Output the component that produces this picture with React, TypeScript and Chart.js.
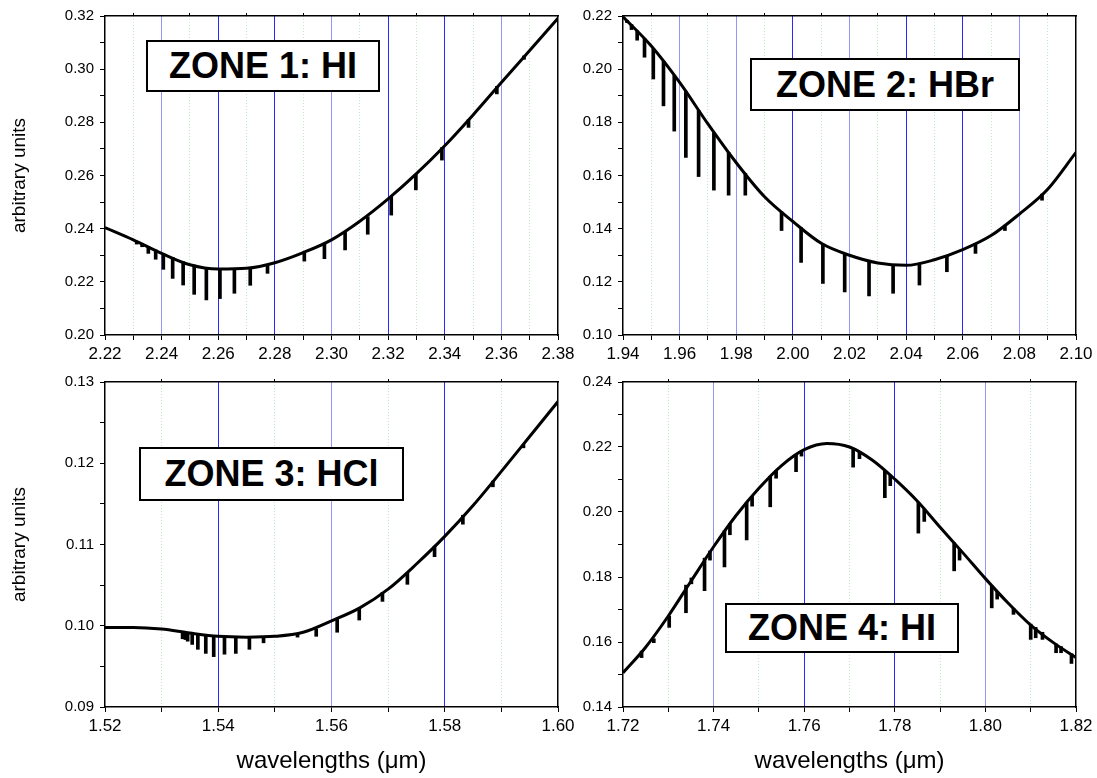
import React, { useEffect, useRef } from 'react';
import { Chart, registerables } from 'chart.js';

Chart.register(...registerables);

const FONT = "'Liberation Sans', Arial, Helvetica, sans-serif";
Chart.defaults.font.family = FONT;
Chart.defaults.color = '#000';

// ---------------- ZONE 1: HI ----------------
const Z1_BASE_X = [2.22, 2.23, 2.24, 2.25, 2.26, 2.27, 2.28, 2.29, 2.30, 2.31, 2.32, 2.33, 2.34, 2.35, 2.36, 2.37, 2.38];
const Z1_BASE_Y = [0.2404, 0.2358, 0.2307, 0.2264, 0.2248, 0.2251, 0.2272, 0.2310, 0.2358, 0.2428, 0.2512, 0.2607, 0.2712, 0.2828, 0.2950, 0.3070, 0.3192];
const Z1_LINE_X = [2.2312, 2.2331, 2.2353, 2.2379, 2.2406, 2.2439, 2.2476, 2.2515, 2.2558, 2.2606, 2.2657, 2.2713, 2.2774, 2.2904, 2.2975, 2.3048, 2.3128, 2.3211, 2.3298, 2.3390, 2.3484, 2.3584, 2.3680];
const Z1_LINE_TOP = [0.2351, 0.2345, 0.2332, 0.2320, 0.2305, 0.2292, 0.2276, 0.2263, 0.2254, 0.2249, 0.2249, 0.2253, 0.2263, 0.2313, 0.2345, 0.2389, 0.2445, 0.2521, 0.2604, 0.2705, 0.2810, 0.2935, 0.3050];
const Z1_LINE_BOTTOM = [0.2342, 0.2332, 0.2307, 0.2285, 0.2247, 0.2213, 0.2188, 0.2153, 0.2132, 0.2137, 0.2157, 0.2187, 0.2232, 0.2278, 0.2287, 0.2320, 0.2379, 0.2451, 0.2546, 0.2658, 0.2781, 0.2907, 0.3037];
const Z1_X_LABELS = ['2.22', '2.24', '2.26', '2.28', '2.30', '2.32', '2.34', '2.36', '2.38'];
const Z1_X_MINOR = [2.23, 2.25, 2.27, 2.29, 2.31, 2.33, 2.35, 2.37];
const Z1_Y_LABELS = ['0.20', '0.22', '0.24', '0.26', '0.28', '0.30', '0.32'];
const Z1_Y_MINOR = [0.21, 0.23, 0.25, 0.27, 0.29, 0.31];

// ---------------- ZONE 2: HBr ----------------
const Z2_BASE_X = [1.94, 1.95, 1.96, 1.97, 1.98, 1.99, 2.00, 2.01, 2.02, 2.03, 2.04, 2.05, 2.06, 2.07, 2.08, 2.09, 2.10];
const Z2_BASE_Y = [0.2197, 0.2087, 0.1950, 0.1794, 0.1648, 0.1520, 0.1427, 0.1345, 0.1300, 0.1271, 0.1262, 0.1283, 0.1321, 0.1374, 0.1455, 0.1548, 0.1687];
const Z2_LINE_X = [1.9414, 1.9430, 1.9450, 1.9476, 1.9507, 1.9543, 1.9581, 1.9622, 1.9667, 1.9721, 1.9773, 1.9832, 1.9960, 2.0029, 2.0106, 2.0183, 2.0269, 2.0354, 2.0447, 2.0544, 2.0645, 2.0749, 2.0880];
const Z2_LINE_TOP = [0.2184, 0.2168, 0.2145, 0.2115, 0.2077, 0.2030, 0.1976, 0.1917, 0.1845, 0.1761, 0.1687, 0.1608, 0.1463, 0.1404, 0.1342, 0.1305, 0.1277, 0.1263, 0.1268, 0.1297, 0.1343, 0.1413, 0.1530];
const Z2_LINE_BOTTOM = [0.2175, 0.2149, 0.2109, 0.2045, 0.1963, 0.1862, 0.1767, 0.1668, 0.1596, 0.1545, 0.1526, 0.1526, 0.1393, 0.1273, 0.1194, 0.1162, 0.1147, 0.1157, 0.1188, 0.1238, 0.1307, 0.1393, 0.1507];
const Z2_X_LABELS = ['1.94', '1.96', '1.98', '2.00', '2.02', '2.04', '2.06', '2.08', '2.10'];
const Z2_X_MINOR = [1.95, 1.97, 1.99, 2.01, 2.03, 2.05, 2.07, 2.09];
const Z2_Y_LABELS = ['0.10', '0.12', '0.14', '0.16', '0.18', '0.20', '0.22'];
const Z2_Y_MINOR = [0.11, 0.13, 0.15, 0.17, 0.19, 0.21];

// ---------------- ZONE 3: HCl ----------------
const Z3_BASE_X = [1.52, 1.525, 1.53, 1.535, 1.54, 1.545, 1.55, 1.555, 1.56, 1.565, 1.57, 1.575, 1.58, 1.585, 1.59, 1.595, 1.60];
const Z3_BASE_Y = [0.0998, 0.0998, 0.0996, 0.0991, 0.0987, 0.0986, 0.0987, 0.0992, 0.1006, 0.1022, 0.1045, 0.1076, 0.1110, 0.1148, 0.1190, 0.1233, 0.1276];
const Z3_LINE_X = [1.5337, 1.5342, 1.5346, 1.5354, 1.5364, 1.5378, 1.5392, 1.5411, 1.5431, 1.5455, 1.5480, 1.5540, 1.5573, 1.5610, 1.5649, 1.5690, 1.5734, 1.5782, 1.5832, 1.5885, 1.5939];
const Z3_LINE_TOP = [0.0992, 0.0992, 0.0991, 0.0991, 0.0990, 0.0989, 0.0988, 0.0987, 0.0986, 0.0986, 0.0986, 0.0990, 0.0996, 0.1009, 0.1021, 0.1041, 0.1065, 0.1098, 0.1136, 0.1178, 0.1223];
const Z3_LINE_BOTTOM = [0.0984, 0.0983, 0.0981, 0.0977, 0.0971, 0.0966, 0.0962, 0.0965, 0.0966, 0.0971, 0.0979, 0.0986, 0.0987, 0.0992, 0.1007, 0.1030, 0.1051, 0.1085, 0.1125, 0.1171, 0.1219];
const Z3_X_LABELS = ['1.52', '1.54', '1.56', '1.58', '1.60'];
const Z3_X_MINOR = [1.53, 1.55, 1.57, 1.59];
const Z3_Y_LABELS = ['0.09', '0.10', '0.11', '0.12', '0.13'];
const Z3_Y_MINOR = [0.095, 0.105, 0.115, 0.125];

// ---------------- ZONE 4: HI ----------------
const Z4_BASE_X = [1.72, 1.725, 1.73, 1.735, 1.74, 1.745, 1.75, 1.755, 1.76, 1.765, 1.77, 1.775, 1.78, 1.785, 1.79, 1.795, 1.80, 1.805, 1.81, 1.815, 1.82];
const Z4_BASE_Y = [0.1505, 0.1584, 0.1680, 0.1787, 0.1893, 0.1990, 0.2073, 0.2143, 0.2192, 0.2211, 0.2200, 0.2160, 0.2101, 0.2033, 0.1953, 0.1875, 0.1795, 0.1720, 0.1652, 0.1598, 0.1552];
const Z4_LINE_X = [1.7241, 1.7268, 1.7302, 1.7339, 1.7351, 1.7380, 1.7392, 1.7424, 1.7436, 1.7473, 1.7485, 1.7525, 1.7538, 1.7582, 1.7594, 1.7708, 1.7722, 1.7778, 1.7790, 1.7852, 1.7865, 1.7931, 1.7943, 1.8014, 1.8026, 1.8062, 1.8100, 1.8111, 1.8126, 1.8156, 1.8167, 1.8190];
const Z4_LINE_TOP = [0.1572, 0.1610, 0.1680, 0.1775, 0.1797, 0.1858, 0.1880, 0.1942, 0.1964, 0.2030, 0.2048, 0.2110, 0.2126, 0.2176, 0.2188, 0.2192, 0.2186, 0.2127, 0.2114, 0.2030, 0.2010, 0.1905, 0.1885, 0.1773, 0.1755, 0.1703, 0.1655, 0.1645, 0.1630, 0.1594, 0.1586, 0.1564];
const Z4_LINE_BOTTOM = [0.1552, 0.1598, 0.1645, 0.1690, 0.1779, 0.1758, 0.1852, 0.1831, 0.1930, 0.1914, 0.2018, 0.2016, 0.2104, 0.2124, 0.2172, 0.2138, 0.2164, 0.2044, 0.2081, 0.1935, 0.1971, 0.1819, 0.1852, 0.1705, 0.1732, 0.1685, 0.1608, 0.1613, 0.1608, 0.1567, 0.1567, 0.1534];
const Z4_X_LABELS = ['1.72', '1.74', '1.76', '1.78', '1.80', '1.82'];
const Z4_X_MINOR = [1.73, 1.75, 1.77, 1.79, 1.81];
const Z4_Y_LABELS = ['0.14', '0.16', '0.18', '0.20', '0.22', '0.24'];
const Z4_Y_MINOR = [0.15, 0.17, 0.19, 0.21, 0.23];

const SHADES: Record<string, string> = { L: '#9494ff', B: '#2a2aff' };
const MINOR_GRID = '#c4eac4';
const X_TITLE = 'wavelengths (\u03bcm)';
const Y_TITLE = 'arbitrary units';

type Box = { left: number; top: number; width: number; height: number };
type Panel = {
  id: string;
  canvas: Box;
  plot: { left: number; top: number; right: number; bottom: number };
  baseX: number[]; baseY: number[];
  lineX: number[]; lineTop: number[]; lineBottom: number[];
  xLabels: string[]; xMinor: number[];
  yLabels: string[]; yMinor: number[];
  gridShades: string[];
  yTitle?: string; xTitle?: string;
  zone: Box & { text: string };
};

const PANELS: Panel[] = [
  {
    id: 'z1',
    canvas: { left: 0, top: 0, width: 590, height: 370 },
    plot: { left: 105, top: 16, right: 558, bottom: 335 },
    baseX: Z1_BASE_X, baseY: Z1_BASE_Y,
    lineX: Z1_LINE_X, lineTop: Z1_LINE_TOP, lineBottom: Z1_LINE_BOTTOM,
    xLabels: Z1_X_LABELS, xMinor: Z1_X_MINOR, yLabels: Z1_Y_LABELS, yMinor: Z1_Y_MINOR,
    gridShades: ['L', 'B', 'B', 'L', 'B', 'B', 'L'],
    yTitle: Y_TITLE,
    zone: { text: 'ZONE 1: HI', left: 146, top: 40, width: 234, height: 52 },
  },
  {
    id: 'z2',
    canvas: { left: 548, top: 0, width: 549, height: 370 },
    plot: { left: 623, top: 16, right: 1076, bottom: 335 },
    baseX: Z2_BASE_X, baseY: Z2_BASE_Y,
    lineX: Z2_LINE_X, lineTop: Z2_LINE_TOP, lineBottom: Z2_LINE_BOTTOM,
    xLabels: Z2_X_LABELS, xMinor: Z2_X_MINOR, yLabels: Z2_Y_LABELS, yMinor: Z2_Y_MINOR,
    gridShades: ['L', 'L', 'B', 'L', 'B', 'B', 'L'],
    zone: { text: 'ZONE 2: HBr', left: 750, top: 58, width: 270, height: 53 },
  },
  {
    id: 'z3',
    canvas: { left: 0, top: 366, width: 590, height: 412 },
    plot: { left: 105, top: 382, right: 558, bottom: 707 },
    baseX: Z3_BASE_X, baseY: Z3_BASE_Y,
    lineX: Z3_LINE_X, lineTop: Z3_LINE_TOP, lineBottom: Z3_LINE_BOTTOM,
    xLabels: Z3_X_LABELS, xMinor: Z3_X_MINOR, yLabels: Z3_Y_LABELS, yMinor: Z3_Y_MINOR,
    gridShades: ['B', 'L', 'B'],
    yTitle: Y_TITLE, xTitle: X_TITLE,
    zone: { text: 'ZONE 3: HCl', left: 139, top: 447, width: 265, height: 54 },
  },
  {
    id: 'z4',
    canvas: { left: 548, top: 366, width: 549, height: 412 },
    plot: { left: 623, top: 382, right: 1076, bottom: 707 },
    baseX: Z4_BASE_X, baseY: Z4_BASE_Y,
    lineX: Z4_LINE_X, lineTop: Z4_LINE_TOP, lineBottom: Z4_LINE_BOTTOM,
    xLabels: Z4_X_LABELS, xMinor: Z4_X_MINOR, yLabels: Z4_Y_LABELS, yMinor: Z4_Y_MINOR,
    gridShades: ['L', 'B', 'B', 'L'],
    xTitle: X_TITLE,
    zone: { text: 'ZONE 4: HI', left: 725, top: 603, width: 234, height: 50 },
  },
];

const near = (a: number, b: number) => Math.abs(a - b) < 1e-7;

function ChartPanel({ p }: { p: Panel }) {
  const ref = useRef<HTMLCanvasElement>(null);
  useEffect(() => {
    const canvas = ref.current;
    if (!canvas) return;
    const xMaj = p.xLabels.map(Number);
    const yMaj = p.yLabels.map(Number);
    const xTicks = [...xMaj, ...p.xMinor].sort((a, b) => a - b);
    const yTicks = [...yMaj, ...p.yMinor].sort((a, b) => a - b);
    const xMin = xMaj[0], xMax = xMaj[xMaj.length - 1];
    const yMin = yMaj[0], yMax = yMaj[yMaj.length - 1];
    const inner = xMaj.slice(1, -1);
    const leftW = p.plot.left - p.canvas.left;
    const rightW = p.canvas.left + p.canvas.width - p.plot.right;
    const topH = p.plot.top - p.canvas.top;
    const bottomH = p.canvas.top + p.canvas.height - p.plot.bottom;
    const setTicks = (vals: number[]) => (scale: any) => {
      scale.ticks = vals.map((v) => ({ value: v }));
    };
    const labelOf = (maj: number[], labels: string[]) => (v: any) => {
      const i = maj.findIndex((m) => near(m, Number(v)));
      return i >= 0 ? labels[i] : '';
    };
    const gridColor = (ctx: any) => {
      const v = ctx.tick ? ctx.tick.value : undefined;
      if (v === undefined || near(v, xMin) || near(v, xMax)) return 'rgba(0,0,0,0)';
      const i = inner.findIndex((m) => near(m, v));
      return i >= 0 ? SHADES[p.gridShades[i]] : MINOR_GRID;
    };
    const gridDash = (ctx: any) => {
      const v = ctx.tick ? ctx.tick.value : undefined;
      if (v === undefined) return [];
      return xMaj.some((m) => near(m, v)) ? [] : [1, 2];
    };

    const chart = new Chart(canvas, {
      type: 'line',
      data: {
        datasets: [
          {
            type: 'line',
            data: p.baseX.map((x, i) => ({ x, y: p.baseY[i] })),
            borderColor: '#000',
            borderWidth: 3,
            pointRadius: 0,
            fill: false,
            tension: 0.4,
            cubicInterpolationMode: 'monotone',
            order: 0,
          } as any,
          {
            type: 'bar',
            data: p.lineX.map((x, i) => ({ x, y: [p.lineBottom[i], p.lineTop[i]] })),
            backgroundColor: '#000',
            borderWidth: 0,
            barThickness: 3,
            order: 1,
          } as any,
        ],
      },
      options: {
        responsive: false,
        maintainAspectRatio: false,
        animation: false,
        devicePixelRatio: 1,
        events: [],
        layout: { padding: 0 },
        plugins: { legend: { display: false }, tooltip: { enabled: false } },
        scales: {
          x: {
            type: 'linear',
            position: 'bottom',
            min: xMin,
            max: xMax,
            offset: false,
            afterBuildTicks: setTicks(xTicks),
            afterFit: (s: any) => { s.height = bottomH; s.paddingLeft = 0; s.paddingRight = 0; },
            ticks: {
              autoSkip: false,
              maxRotation: 0,
              padding: 4,
              color: '#000',
              font: { size: 17, family: FONT },
              callback: labelOf(xMaj, p.xLabels),
            },
            grid: {
              offset: false,
              drawOnChartArea: true,
              color: gridColor,
              lineWidth: 1,
              tickLength: 5,
              tickColor: '#000',
              tickWidth: 1,
              tickBorderDash: [],
            },
            border: { display: true, color: '#000', width: 1.5, dash: gridDash },
            title: p.xTitle
              ? { display: true, text: p.xTitle, color: '#000', font: { size: 24, family: FONT }, padding: { top: 0, bottom: 2 } }
              : { display: false },
          },
          xt: {
            type: 'linear',
            position: 'top',
            min: xMin,
            max: xMax,
            offset: false,
            afterBuildTicks: setTicks(p.xMinor),
            afterFit: (s: any) => { s.height = topH; s.paddingLeft = 0; s.paddingRight = 0; },
            ticks: { display: false },
            grid: { offset: false, drawOnChartArea: false, tickLength: 3, tickColor: '#000', tickWidth: 1 },
            border: { display: true, color: '#000', width: 1.5 },
          },
          y: {
            type: 'linear',
            position: 'left',
            min: yMin,
            max: yMax,
            afterBuildTicks: setTicks(yTicks),
            afterFit: (s: any) => { s.width = leftW; s.paddingTop = 0; s.paddingBottom = 0; },
            ticks: {
              autoSkip: false,
              padding: 6,
              color: '#000',
              font: { size: 15, family: FONT },
              callback: labelOf(yMaj, p.yLabels),
            },
            grid: { offset: false, drawOnChartArea: false, tickLength: 5, tickColor: '#000', tickWidth: 1 },
            border: { display: true, color: '#000', width: 1.5 },
            title: p.yTitle
              ? { display: true, text: p.yTitle, color: '#000', font: { size: 19, family: FONT }, padding: { top: 8, bottom: 0 } }
              : { display: false },
          },
          yr: {
            type: 'linear',
            position: 'right',
            min: yMin,
            max: yMax,
            afterFit: (s: any) => { s.width = rightW; s.paddingTop = 0; s.paddingBottom = 0; },
            ticks: { display: false },
            grid: { display: false, drawTicks: false, drawOnChartArea: false },
            border: { display: true, color: '#000', width: 1.5 },
          },
        },
      } as any,
    });
    return () => chart.destroy();
  }, [p]);

  return (
    <canvas
      ref={ref}
      width={p.canvas.width}
      height={p.canvas.height}
      style={{
        position: 'absolute',
        left: p.canvas.left,
        top: p.canvas.top,
        width: p.canvas.width,
        height: p.canvas.height,
      }}
    />
  );
}

export default function App() {
  return (
    <div
      style={{
        position: 'absolute',
        left: 0,
        top: 0,
        width: 1097,
        height: 778,
        background: '#fff',
        overflow: 'hidden',
      }}
    >
      {PANELS.map((p) => (
        <ChartPanel key={p.id} p={p} />
      ))}
      {PANELS.map((p) => (
        <div
          key={'zone-' + p.id}
          style={{
            position: 'absolute',
            left: p.zone.left,
            top: p.zone.top,
            width: p.zone.width,
            height: p.zone.height,
            boxSizing: 'border-box',
            border: '2px solid #000',
            background: '#fff',
            display: 'flex',
            alignItems: 'center',
            justifyContent: 'center',
            fontFamily: FONT,
            fontWeight: 'bold',
            fontSize: 36,
            color: '#000',
            whiteSpace: 'nowrap',
            zIndex: 2,
            lineHeight: 1,
          }}
        >
          {p.zone.text}
        </div>
      ))}
    </div>
  );
}
